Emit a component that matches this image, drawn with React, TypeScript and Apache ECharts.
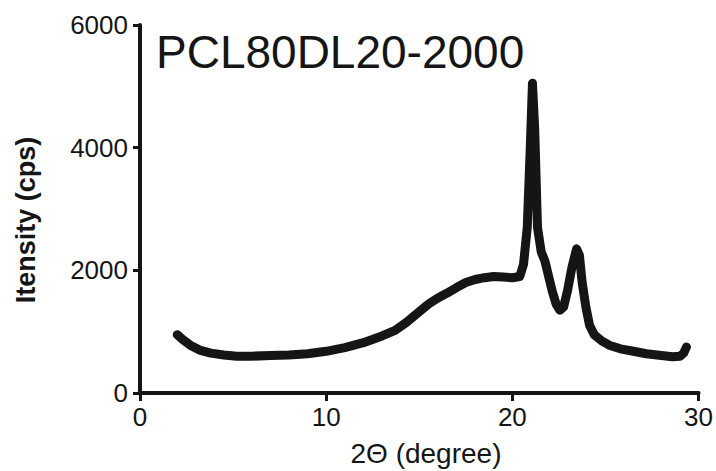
import React, { useEffect, useRef } from "react";
import * as echarts from "echarts";

const titleText = "PCL80DL20-2000";
const xAxisTitle = "2Θ (degree)";
const yAxisTitle = "Itensity (cps)";

const xTicks = [0, 10, 20, 30];
const yTicks = [0, 2000, 4000, 6000];

const twoTheta = [
  2.0, 2.3, 2.7, 3.2, 3.8, 4.5, 5.2, 6.0, 7.0, 8.0, 9.0, 10.0, 11.0, 12.0, 13.0,
  13.7, 14.3, 14.9, 15.5, 16.0, 16.5, 17.0, 17.5, 18.0, 18.5, 19.0, 19.5, 20.0,
  20.4, 20.6, 20.8, 20.95, 21.08, 21.2, 21.35, 21.55, 21.75, 21.95, 22.15, 22.35,
  22.55, 22.75, 22.95, 23.2, 23.45, 23.6, 23.75, 23.95, 24.15, 24.4, 24.8, 25.2, 25.8,
  26.5, 27.2, 28.0, 28.6, 29.0, 29.2, 29.35,
];
const intensity = [
  950, 870, 780, 700, 650, 620, 600, 600, 610, 620, 640, 680, 740, 820, 930,
  1020, 1150, 1300, 1450, 1550, 1630, 1720, 1800, 1850, 1880, 1900, 1890, 1880,
  1900, 2100, 2700, 3900, 5050, 4300, 2700, 2300, 2150, 1900, 1650, 1450,
  1350, 1400, 1650, 2050, 2350, 2250, 1800, 1400, 1100, 950, 850, 780, 720,
  680, 640, 610, 590, 600, 650, 750,
];

const FONT = "'Liberation Sans', Arial, sans-serif";
const INK = "#151515";

export default function App() {
  const ref = useRef<HTMLDivElement>(null);

  useEffect(() => {
    if (!ref.current) return;
    const chart = echarts.init(ref.current, undefined, { renderer: "svg" });
    const data = twoTheta.map((x, i) => [x, intensity[i]]);
    chart.setOption({
      animation: false,
      backgroundColor: "#ffffff",
      grid: { left: 140, right: 13, top: 25, bottom: 78, containLabel: false },
      title: {
        text: titleText,
        left: 156,
        top: 29,
        padding: 0,
        textStyle: { fontFamily: FONT, fontSize: 46, fontWeight: "normal", color: INK },
      },
      xAxis: {
        type: "value",
        min: xTicks[0],
        max: xTicks[xTicks.length - 1],
        interval: 10,
        splitLine: { show: false },
        axisLine: { show: true, onZero: false, lineStyle: { color: INK, width: 4 } },
        axisTick: { show: true, inside: false, length: 8, lineStyle: { color: INK, width: 3 } },
        axisLabel: {
          fontFamily: FONT,
          fontSize: 26,
          color: INK,
          margin: 11,
          formatter: (v: number) => String(v),
        },
      },
      yAxis: {
        type: "value",
        min: yTicks[0],
        max: yTicks[yTicks.length - 1],
        interval: 2000,
        splitLine: { show: false },
        axisLine: { show: true, onZero: false, lineStyle: { color: INK, width: 4 } },
        axisTick: { show: true, inside: false, length: 7, lineStyle: { color: INK, width: 3 } },
        axisLabel: {
          fontFamily: FONT,
          fontSize: 26,
          color: INK,
          margin: 12,
          formatter: (v: number) => String(v),
        },
      },
      graphic: [
        {
          type: "text",
          x: 426,
          y: 453,
          style: {
            text: xAxisTitle,
            font: `28px ${FONT}`,
            fill: INK,
            textAlign: "center",
            textVerticalAlign: "middle",
          },
        },
        {
          type: "text",
          x: 26,
          y: 220,
          rotation: Math.PI / 2,
          style: {
            text: yAxisTitle,
            font: `bold 27px ${FONT}`,
            fill: INK,
            textAlign: "center",
            textVerticalAlign: "middle",
          },
        },
      ],
      series: [
        {
          type: "line",
          data,
          showSymbol: false,
          symbol: "none",
          lineStyle: { color: INK, width: 9, join: "round", cap: "round" },
        },
      ],
    });
    return () => chart.dispose();
  }, []);

  return (
    <div
      ref={ref}
      style={{ position: "fixed", left: 0, top: 0, width: 716, height: 471 }}
    />
  );
}
